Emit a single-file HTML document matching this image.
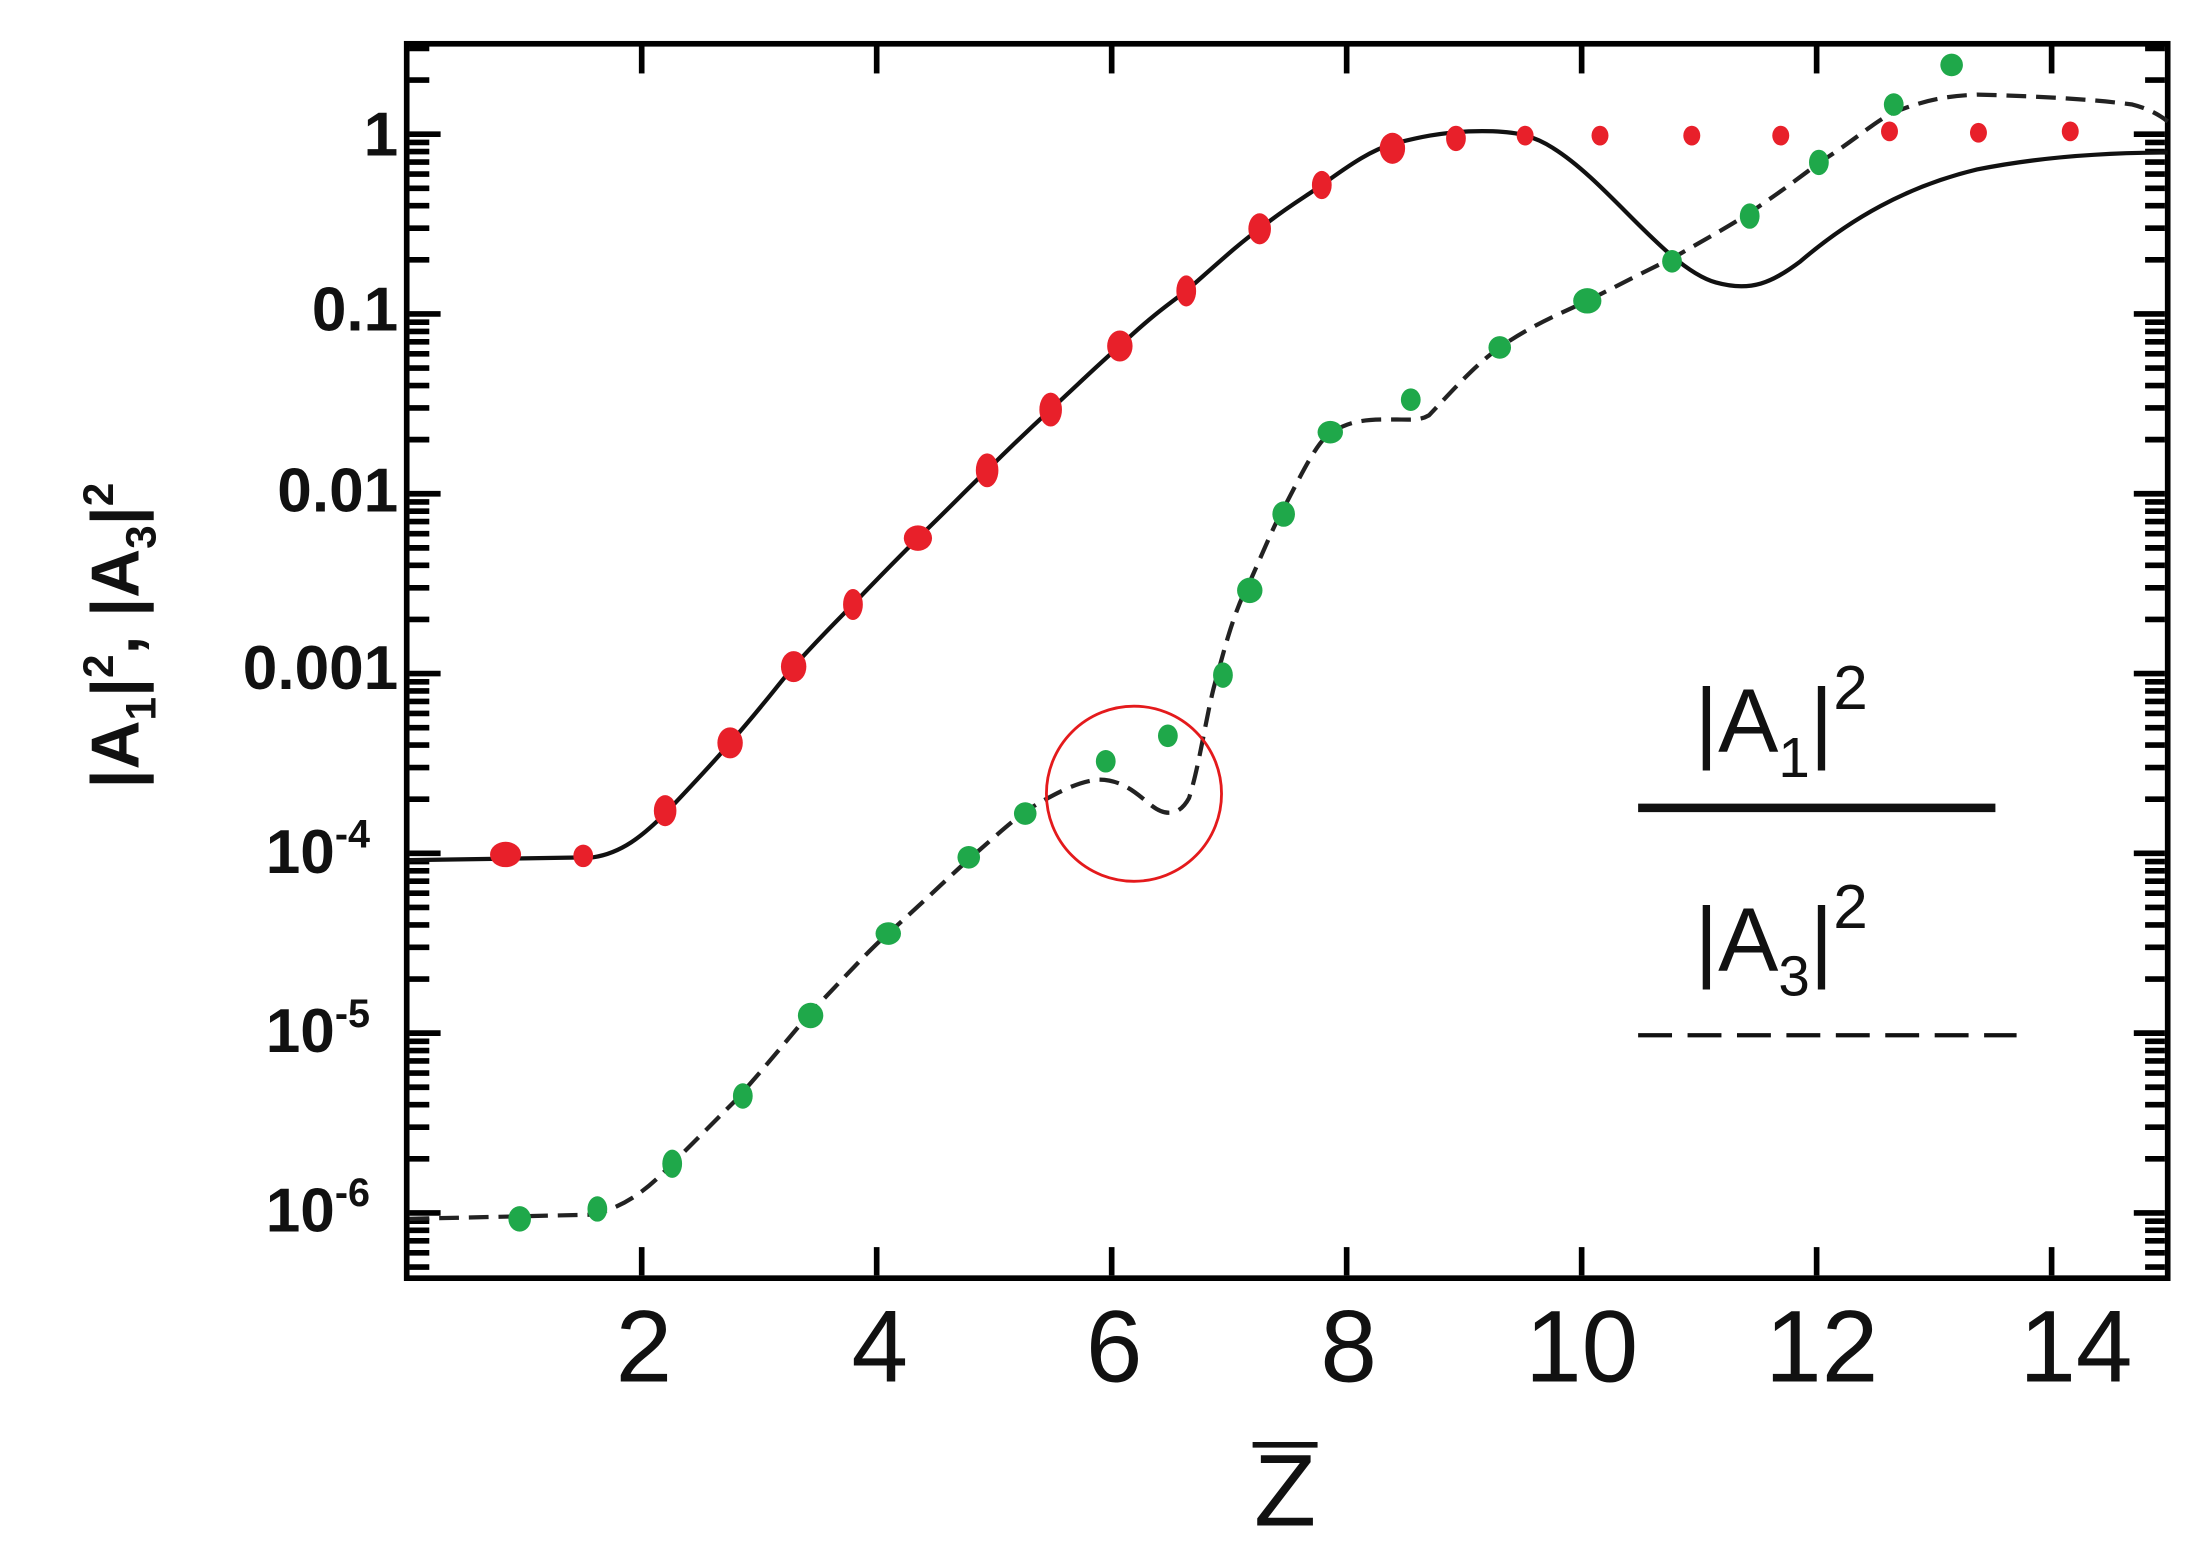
<!DOCTYPE html>
<html><head><meta charset="utf-8"><style>
html,body{margin:0;padding:0;background:#fff;}
svg{display:block;}
text{font-family:"Liberation Sans",sans-serif;fill:#111;}
</style></head><body>
<svg id="s" width="2203" height="1555" viewBox="0 0 1560 1101" preserveAspectRatio="none" xmlns="http://www.w3.org/2000/svg">
<rect x="0" y="0" width="1560" height="1101" fill="#fff"/>
<g id="ticks" stroke="#000" stroke-width="4"></g>
<rect x="288" y="31" width="1247" height="874" fill="none" stroke="#000" stroke-width="4"/>
<path d="M290,609 L420,607 C440,604 455,592 471,576 C490,556 505,540 517,526 C540,500 550,486 562,472 C580,452 592,440 604,428 C625,406 638,393 650,381 C675,357 686,345 699,333 C720,312 732,301 744,290 C770,266 780,256 793,245 C815,224 828,215 840,206 C865,184 878,172 892,162 C912,146 925,139 936,131 C958,115 972,106 986,102 C1005,97 1020,94 1040,93 C1070,92 1085,95 1100,105 C1140,130 1180,190 1215,200 C1240,207 1255,200 1275,185 C1310,155 1350,132 1400,120 C1450,110 1500,108 1535,108" fill="none" stroke="#111" stroke-width="3"/>
<path d="M290,863 L420,860 C440,855 455,845 470,830 C490,810 505,795 520,780 C545,752 560,733 574,717 C600,690 615,673 630,660 C660,633 675,618 690,605 C705,592 718,580 730,572 C750,560 765,553 778,552 C795,552 805,562 815,570 C825,578 835,578 842,565 C850,540 855,500 862,478 C872,440 878,425 885,412 C897,385 903,370 910,358 C922,335 930,318 940,308 C955,298 965,297 985,297 C1000,297 1005,298 1012,294 C1030,275 1045,258 1062,246 C1085,230 1105,222 1124,213 C1150,200 1165,192 1184,183 C1210,168 1225,160 1240,150 C1265,133 1275,125 1290,114 C1315,98 1325,88 1340,80 C1360,72 1375,68 1400,67 C1440,68 1480,70 1510,74 C1522,77 1530,82 1535,86" fill="none" stroke="#222" stroke-width="3" stroke-dasharray="14 7"/>
<g id="pts"></g>
<ellipse cx="803" cy="562" rx="62" ry="62" fill="none" stroke="#e41a1c" stroke-width="2"/>
<g font-size="44" text-anchor="end" font-weight="bold">
<text x="282" y="110">1</text>
<text x="282" y="234">0.1</text>
<text x="282" y="362">0.01</text>
<text x="282" y="488">0.001</text>
<text x="262" y="618">10<tspan font-size="28" dy="-18">-4</tspan></text>
<text x="262" y="745">10<tspan font-size="28" dy="-18">-5</tspan></text>
<text x="262" y="872">10<tspan font-size="28" dy="-18">-6</tspan></text>
</g>
<g font-size="72" text-anchor="middle">
<text x="456" y="978">2</text>
<text x="623" y="978">4</text>
<text x="789" y="978">6</text>
<text x="955" y="978">8</text>
<text x="1120" y="978">10</text>
<text x="1290" y="978">12</text>
<text x="1470" y="978">14</text>
<text x="910" y="1080">Z</text>
</g>
<line x1="887" y1="1023" x2="933" y2="1023" stroke="#111" stroke-width="4"/>
<text transform="translate(98,450) rotate(-90)" font-size="48" font-weight="bold" text-anchor="middle">|A<tspan font-size="30" dy="12">1</tspan><tspan dy="-12">|</tspan><tspan font-size="30" dy="-18">2</tspan><tspan dy="18">,  |A</tspan><tspan font-size="30" dy="12">3</tspan><tspan dy="-12">|</tspan><tspan font-size="30" dy="-18">2</tspan></text>
<g font-size="64">
<text x="1200" y="532">|A<tspan font-size="40" dy="18">1</tspan><tspan dy="-18">|</tspan><tspan font-size="44" dy="-30">2</tspan></text>
<text x="1200" y="687">|A<tspan font-size="40" dy="18">3</tspan><tspan dy="-18">|</tspan><tspan font-size="44" dy="-30">2</tspan></text>
</g>
<line x1="1160" y1="572" x2="1413" y2="572" stroke="#111" stroke-width="6"/>
<line x1="1160" y1="733" x2="1428" y2="733" stroke="#111" stroke-width="3" stroke-dasharray="24 11"/>
</svg>
<script>
var NS="http://www.w3.org/2000/svg";
var t=document.getElementById("ticks");
function ln(x1,y1,x2,y2,w){var l=document.createElementNS(NS,"line");l.setAttribute("x1",x1);l.setAttribute("y1",y1);l.setAttribute("x2",x2);l.setAttribute("y2",y2);if(w)l.setAttribute("stroke-width",w);t.appendChild(l);}
for(var d=-7;d<=1;d++){for(var m=1;m<10;m++){var y=95-127.3*(d+Math.log10(m));if(y<32||y>904)continue;var L=(m==1)?22:14;ln(290,y,290+L,y);ln(1533,y,1533-L,y);}}
for(var i=2;i<=14;i+=2){var x=288+i*83.2;ln(x,32,x,52);ln(x,903,x,883);}
var p=document.getElementById("pts");
function pt(x,y,rx,ry,c){var e=document.createElementNS(NS,"ellipse");e.setAttribute("cx",x);e.setAttribute("cy",y);e.setAttribute("rx",rx);e.setAttribute("ry",ry);e.setAttribute("fill",c);p.appendChild(e);}
var red=[[358,605,11,9],[413,606,7,8],[471,574,8,11],[517,526,9,11],[562,472,9,11],[604,428,7,11],[650,381,10,9],[699,333,8,12],[744,290,8,12],[793,245,9,11],[840,206,7,11],[892,162,8,11],[936,131,7,10],[986,105,9,11],[1031,98,7,9],[1080,96,6,7],[1133,96,6,7],[1198,96,6,7],[1261,96,6,7],[1338,93,6,7],[1401,94,6,7],[1466,93,6,7]];
red.forEach(function(a){pt(a[0],a[1],a[2],a[3],"#e8202a");});
var gr=[[368,863,8,9],[423,856,7,9],[476,824,7,10],[526,776,7,9],[574,719,9,9],[629,661,9,8],[686,607,8,8],[726,576,8,8],[783,539,7,8],[827,521,7,8],[866,478,7,9],[885,418,9,9],[909,364,8,9],[942,306,9,8],[999,283,7,8],[1062,246,8,8],[1124,213,10,9],[1184,185,7,8],[1239,153,7,9],[1288,115,7,9],[1341,74,7,8],[1382,46,8,8]];
gr.forEach(function(a){pt(a[0],a[1],a[2],a[3],"#1fa84a");});
</script>
</body></html>
